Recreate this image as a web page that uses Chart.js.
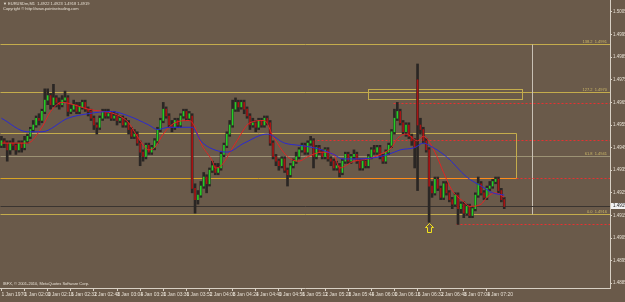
<!DOCTYPE html>
<html>
<head>
<meta charset="utf-8">
<script src="https://cdn.jsdelivr.net/npm/chart.js@4.4.1/dist/chart.umd.min.js"></script>
<style>
html, body { margin: 0; padding: 0; background: #6a5a4a; }
</style>
</head>
<body>
<canvas id="chart" width="625" height="302"></canvas>
<script>
// two-minute bars
const opens = [
  1.4946,1.4948,1.4947,1.4944,1.4947,1.4946,1.4944,1.4947,1.4945,1.4948,
  1.4950,1.4953,1.4955,1.4958,1.4957,1.4961,1.4966,1.4968,1.4964,1.4967,
  1.4965,1.4964,1.4966,1.4967,1.4961,1.4962,1.4964,1.4961,1.4963,1.4965,
  1.4962,1.4961,1.4958,1.4955,1.4954,1.4958,1.4961,1.4959,1.4960,1.4958,
  1.4959,1.4957,1.4958,1.4955,1.4956,1.4953,1.4950,1.4951,1.4947,1.4943,
  1.4941,1.4946,1.4943,1.4945,1.4948,1.4953,1.4957,1.4962,1.4959,1.4955,
  1.4954,1.4957,1.4955,1.4959,1.4961,1.4958,1.4959,1.4927,1.4922,1.4924,
  1.4928,1.4932,1.4929,1.4935,1.4937,1.4934,1.4936,1.4942,1.4946,1.4951,
  1.4955,1.4962,1.4965,1.4963,1.4965,1.4962,1.4959,1.4955,1.4956,1.4954,
  1.4957,1.4955,1.4958,1.4956,1.4947,1.4941,1.4939,1.4937,1.4940,1.4935,
  1.4933,1.4937,1.4939,1.4941,1.4944,1.4946,1.4943,1.4947,1.4948,1.4941,
  1.4945,1.4943,1.4941,1.4944,1.4940,1.4939,1.4936,1.4937,1.4934,1.4939,
  1.4942,1.4939,1.4941,1.4942,1.4939,1.4936,1.4939,1.4937,1.4941,1.4944,
  1.4943,1.4945,1.4941,1.4939,1.4943,1.4946,1.4952,1.4958,1.4961,1.4956,
  1.4952,1.4955,1.4950,1.4948,1.4975,1.4955,1.4953,1.4948,1.4944,1.4928,
  1.4925,1.4931,1.4927,1.4923,1.4929,1.4925,1.4922,1.4920,1.4924,1.4918,
  1.4920,1.4916,1.4919,1.4915,1.4918,1.4924,1.4929,1.4925,1.4923,1.4927,
  1.4928,1.4930,1.4931,1.4926,1.4922
];
const highs = [
  1.4950,1.4949,1.4948,1.4948,1.4949,1.4947,1.4948,1.4948,1.4950,1.4951,
  1.4954,1.4957,1.4959,1.4960,1.4962,1.4971,1.4971,1.4969,1.4973,1.4968,
  1.4967,1.4968,1.4970,1.4968,1.4964,1.4966,1.4965,1.4965,1.4966,1.4966,
  1.4963,1.4962,1.4959,1.4956,1.4959,1.4962,1.4962,1.4962,1.4961,1.4961,
  1.4960,1.4959,1.4959,1.4958,1.4957,1.4954,1.4953,1.4952,1.4948,1.4944,
  1.4947,1.4947,1.4946,1.4949,1.4954,1.4958,1.4965,1.4963,1.4960,1.4957,
  1.4958,1.4958,1.4960,1.4962,1.4962,1.4961,1.4960,1.4929,1.4926,1.4930,
  1.4934,1.4933,1.4936,1.4939,1.4938,1.4938,1.4943,1.4947,1.4952,1.4957,
  1.4966,1.4967,1.4966,1.4966,1.4966,1.4963,1.4960,1.4958,1.4957,1.4958,
  1.4958,1.4959,1.4959,1.4957,1.4948,1.4942,1.4940,1.4941,1.4941,1.4936,
  1.4938,1.4940,1.4943,1.4945,1.4947,1.4947,1.4948,1.4950,1.4949,1.4946,
  1.4946,1.4944,1.4945,1.4945,1.4941,1.4940,1.4939,1.4938,1.4940,1.4943,
  1.4943,1.4942,1.4944,1.4943,1.4940,1.4940,1.4940,1.4942,1.4945,1.4946,
  1.4946,1.4946,1.4942,1.4944,1.4947,1.4953,1.4962,1.4965,1.4962,1.4957,
  1.4956,1.4956,1.4951,1.4949,1.4982,1.4958,1.4954,1.4949,1.4945,1.4930,
  1.4932,1.4932,1.4928,1.4930,1.4930,1.4926,1.4923,1.4925,1.4925,1.4921,
  1.4921,1.4920,1.4920,1.4919,1.4925,1.4932,1.4930,1.4926,1.4928,1.4930,
  1.4931,1.4932,1.4932,1.4927,1.4923
];
const lows = [
  1.4945,1.4945,1.4939,1.4942,1.4944,1.4942,1.4943,1.4943,1.4944,1.4947,
  1.4949,1.4952,1.4954,1.4955,1.4956,1.4960,1.4964,1.4962,1.4963,1.4963,
  1.4962,1.4963,1.4965,1.4959,1.4960,1.4961,1.4960,1.4960,1.4962,1.4961,
  1.4959,1.4957,1.4953,1.4951,1.4953,1.4957,1.4958,1.4958,1.4957,1.4957,
  1.4955,1.4956,1.4954,1.4954,1.4951,1.4949,1.4949,1.4946,1.4937,1.4939,
  1.4940,1.4942,1.4942,1.4944,1.4947,1.4952,1.4956,1.4958,1.4954,1.4952,
  1.4953,1.4954,1.4954,1.4958,1.4957,1.4957,1.4925,1.4916,1.4920,1.4923,
  1.4927,1.4925,1.4928,1.4934,1.4933,1.4933,1.4935,1.4941,1.4945,1.4950,
  1.4954,1.4961,1.4961,1.4962,1.4960,1.4958,1.4953,1.4954,1.4952,1.4953,
  1.4954,1.4954,1.4955,1.4946,1.4940,1.4937,1.4935,1.4936,1.4934,1.4928,
  1.4932,1.4936,1.4938,1.4940,1.4943,1.4942,1.4942,1.4946,1.4936,1.4940,
  1.4942,1.4940,1.4940,1.4939,1.4937,1.4935,1.4935,1.4932,1.4933,1.4938,
  1.4938,1.4938,1.4940,1.4938,1.4935,1.4935,1.4936,1.4936,1.4940,1.4942,
  1.4942,1.4940,1.4938,1.4938,1.4942,1.4945,1.4951,1.4957,1.4955,1.4951,
  1.4950,1.4949,1.4946,1.4936,1.4926,1.4951,1.4947,1.4943,1.4912,1.4923,
  1.4924,1.4926,1.4922,1.4922,1.4924,1.4921,1.4918,1.4919,1.4911,1.4916,
  1.4914,1.4915,1.4914,1.4914,1.4917,1.4923,1.4924,1.4922,1.4922,1.4926,
  1.4927,1.4929,1.4925,1.4921,1.4918
];
const closes = [
  1.4948,1.4947,1.4944,1.4947,1.4946,1.4944,1.4947,1.4945,1.4948,1.4950,
  1.4953,1.4955,1.4958,1.4957,1.4961,1.4966,1.4968,1.4964,1.4967,1.4965,
  1.4964,1.4966,1.4967,1.4961,1.4962,1.4964,1.4961,1.4963,1.4965,1.4962,
  1.4961,1.4958,1.4955,1.4954,1.4958,1.4961,1.4959,1.4960,1.4958,1.4959,
  1.4957,1.4958,1.4955,1.4956,1.4953,1.4950,1.4951,1.4947,1.4943,1.4941,
  1.4946,1.4943,1.4945,1.4948,1.4953,1.4957,1.4962,1.4959,1.4955,1.4954,
  1.4957,1.4955,1.4959,1.4961,1.4958,1.4960,1.4927,1.4922,1.4924,1.4928,
  1.4932,1.4929,1.4935,1.4937,1.4934,1.4936,1.4942,1.4946,1.4951,1.4955,
  1.4962,1.4965,1.4963,1.4965,1.4962,1.4959,1.4955,1.4956,1.4954,1.4957,
  1.4955,1.4958,1.4956,1.4947,1.4941,1.4939,1.4937,1.4940,1.4935,1.4933,
  1.4937,1.4939,1.4941,1.4944,1.4946,1.4943,1.4947,1.4948,1.4941,1.4945,
  1.4943,1.4941,1.4944,1.4940,1.4939,1.4936,1.4937,1.4934,1.4939,1.4942,
  1.4939,1.4941,1.4942,1.4939,1.4936,1.4939,1.4937,1.4941,1.4944,1.4943,
  1.4945,1.4941,1.4939,1.4943,1.4946,1.4952,1.4958,1.4961,1.4956,1.4952,
  1.4955,1.4950,1.4948,1.4945,1.4955,1.4953,1.4948,1.4944,1.4928,1.4925,
  1.4931,1.4927,1.4923,1.4929,1.4925,1.4922,1.4920,1.4924,1.4918,1.4920,
  1.4916,1.4919,1.4915,1.4918,1.4924,1.4929,1.4925,1.4923,1.4927,1.4928,
  1.4930,1.4931,1.4926,1.4922,1.4919
];

// moving averages, sampled at these bars
const slowMaBars = [0,9,14,23,30,38,44,51,54,58,62,66,69,72,78,84,92,98,103,108,115,118,124,131,136,138,143,146,148,154,161,166,170,174];
const slowMa = [1.4958,1.4952,1.4952,1.4958,1.4960,1.4961,1.4959,1.4955,1.4953,1.4954,1.4954,1.4954,1.4948,1.4945,1.4943,1.4947,1.4951,1.4947,1.4946,1.4945,1.4942,1.4940,1.4940,1.4941,1.4943,1.4944,1.4945,1.4947,1.4946,1.4941,1.4932,1.4928,1.4925,1.4924];
const fastMaBars = [0,9,14,17,21,25,30,35,39,44,47,51,53,56,60,65,67,69,73,74,76,81,86,91,94,99,103,106,111,115,117,122,127,131,135,137,140,144,146,150,153,156,160,162,166,168,171,174];
const fastMa = [1.4947,1.4947,1.4954,1.4961,1.4965,1.4964,1.4962,1.4961,1.4960,1.4956,1.4950,1.4944,1.4945,1.4951,1.4956,1.4957,1.4954,1.4947,1.4939,1.4936,1.4937,1.4947,1.4956,1.4957,1.4950,1.4941,1.4939,1.4941,1.4943,1.4942,1.4936,1.4939,1.4940,1.4942,1.4945,1.4949,1.4951,1.4948,1.4950,1.4943,1.4934,1.4926,1.4921,1.4919,1.4920,1.4923,1.4925,1.4923];

const priceTicks = [1.5005,1.4995,1.4985,1.4975,1.4965,1.4955,1.4945,1.4935,1.4925,1.4915,1.4905,1.4895,1.4885];
const timeLabels = ['1 Jan 1970','1 Jan 02:00','1 Jan 02:16','1 Jan 02:32','1 Jan 02:48','1 Jan 03:04','1 Jan 03:20','1 Jan 03:36','1 Jan 03:52','1 Jan 04:08','1 Jan 04:24','1 Jan 04:40','1 Jan 04:56','1 Jan 05:12','1 Jan 05:28','1 Jan 05:44','1 Jan 06:00','1 Jan 06:16','1 Jan 06:32','1 Jan 06:48','1 Jan 07:04','1 Jan 07:20'];

// fibo levels and drawn objects
const fibPrices = [1.49908, 1.49696, 1.49413, 1.49156];
const fibLabels = ['138.2  1.4991', '127.2  1.4970', '61.8  1.4941', '0.0  1.4916'];
const redLevels = [1.49647, 1.49484, 1.49315, 1.49112];
const redFrom = [135.5, 107.8, 178, 157.3];
const boxTop = 1.49514, boxBottom = 1.49315, boxEnd = 178;
const smallBox = [126.8, 180.1, 1.49709, 1.49665];
const rangeEdge = 183.6;
const arrowBar = 148;

const bg = '#6a5a4a';
const axisColor = '#d8d0c4';
const textColor = '#e6ded2';
const font = "'Liberation Sans', Arial, sans-serif";

const bars = closes.map((c, i) => i);
const lastClose = closes[closes.length - 1];

const overlay = {
	id: 'overlay',
	beforeDraw(chart) {
		const ctx = chart.ctx;
		ctx.save();
		ctx.fillStyle = bg;
		ctx.fillRect(0, 0, chart.width, chart.height);
		ctx.restore();
	},
	beforeDatasetsDraw(chart) {
		const { ctx, chartArea: a, scales: { x, y } } = chart;
		const py = (v) => Math.round(y.getPixelForValue(v)) + 0.5;
		const px = (v) => Math.round(x.getPixelForValue(v)) + 0.5;
		const hline = (v, from, to, color, dash) => {
			ctx.strokeStyle = color;
			ctx.setLineDash(dash || []);
			ctx.beginPath();
			ctx.moveTo(px(from), py(v));
			ctx.lineTo(px(to), py(v));
			ctx.stroke();
		};
		ctx.save();
		ctx.beginPath();
		ctx.rect(a.left, a.top, a.width, a.height);
		ctx.clip();
		ctx.lineWidth = 1;

		fibPrices.forEach((v, k) => {
			hline(v, x.min, x.max, k === 2 ? '#9c9274' : '#c4ac4c');
		});
		ctx.fillStyle = '#cdb866';
		ctx.font = '4px ' + font;
		ctx.textAlign = 'right';
		ctx.textBaseline = 'bottom';
		fibPrices.forEach((v, k) => {
			ctx.fillText(fibLabels[k], a.right - 3, py(v) - 1);
		});

		// zone box
		hline(boxTop, x.min, boxEnd, '#c4ac4c');
		hline(boxBottom, x.min, boxEnd, '#d8a424');
		hline(boxBottom, 116.5, boxEnd, '#ff8c1a');
		ctx.strokeStyle = '#c4ac4c';
		ctx.beginPath();
		ctx.moveTo(px(boxEnd), py(boxTop));
		ctx.lineTo(px(boxEnd), py(boxBottom));
		ctx.stroke();

		// small box
		ctx.strokeRect(px(smallBox[0]), py(smallBox[2]), px(smallBox[1]) - px(smallBox[0]), py(smallBox[3]) - py(smallBox[2]));

		// range edge
		ctx.strokeStyle = '#c8c0b4';
		ctx.beginPath();
		ctx.moveTo(px(rangeEdge), py(fibPrices[0]));
		ctx.lineTo(px(rangeEdge), py(fibPrices[3]));
		ctx.stroke();

		redLevels.forEach((v, k) => hline(v, redFrom[k], x.max, '#e83030', [2, 2]));

		// bid line
		hline(lastClose, x.min, x.max, '#3a3430');
		ctx.restore();
	},
	afterDraw(chart) {
		const { ctx, chartArea: a, scales: { x, y } } = chart;
		ctx.save();
		// arrow under the low bar
		const ax = Math.round(x.getPixelForValue(arrowBar)) + 0.5;
		const ay = Math.round(y.getPixelForValue(lows[arrowBar])) + 1.5;
		ctx.strokeStyle = '#f2e21c';
		ctx.lineWidth = 1;
		ctx.beginPath();
		ctx.moveTo(ax, ay);
		ctx.lineTo(ax + 4, ay + 4);
		ctx.lineTo(ax + 2, ay + 4);
		ctx.lineTo(ax + 2, ay + 9);
		ctx.lineTo(ax - 2, ay + 9);
		ctx.lineTo(ax - 2, ay + 4);
		ctx.lineTo(ax - 4, ay + 4);
		ctx.closePath();
		ctx.stroke();

		// price box on the axis
		const cy = Math.round(y.getPixelForValue(lastClose));
		ctx.fillStyle = '#f2f2f2';
		ctx.fillRect(a.right + 1, cy - 3, chart.width - a.right - 1, 6);
		ctx.fillStyle = '#202020';
		ctx.font = '4.5px ' + font;
		ctx.textAlign = 'left';
		ctx.textBaseline = 'middle';
		ctx.fillText(lastClose.toFixed(4), a.right + 3, cy);

		// texts
		ctx.fillStyle = textColor;
		ctx.font = '4px ' + font;
		ctx.fillText('\u25BC EURUSDm,M1  1.4922 1.4923 1.4918 1.4919', 3, 4);
		ctx.fillText('Copyright \u00A9 http://www.pointsetrading.com', 3, 8.5);
		ctx.fillText('IBFX, \u00A9 2001-2010, MetaQuotes Software Corp.', 3, a.bottom - 4);
		ctx.restore();
	}
};

new Chart(document.getElementById('chart'), {
	type: 'bar',
	data: {
		datasets: [
			{
				type: 'line',
				data: slowMaBars.map((b, k) => ({ x: b, y: slowMa[k] })),
				borderColor: '#2a2ad0',
				borderWidth: 1,
				pointRadius: 0,
				cubicInterpolationMode: 'monotone',
				order: 0,
			},
			{
				type: 'line',
				data: fastMaBars.map((b, k) => ({ x: b, y: fastMa[k] })),
				borderColor: '#e02424',
				borderWidth: 1,
				pointRadius: 0,
				cubicInterpolationMode: 'monotone',
				order: 1,
			},
			{
				data: bars.map((i) => ({ x: i, y: [opens[i], closes[i]] })),
				backgroundColor: bars.map((i) => (closes[i] >= opens[i] ? '#26cc26' : '#a81414')),
				barThickness: 1,
				grouped: false,
				order: 2,
			},
			{
				data: bars.map((i) => ({ x: i, y: [lows[i], highs[i]] })),
				backgroundColor: '#2a2624',
				barThickness: 2,
				grouped: false,
				order: 3,
			},
		],
	},
	options: {
		responsive: false,
		animation: false,
		devicePixelRatio: 1,
		layout: { padding: 0 },
		plugins: {
			legend: { display: false },
			tooltip: { enabled: false },
		},
		scales: {
			x: {
				type: 'linear',
				position: 'bottom',
				offset: false,
				min: -0.5,
				max: 210.6,
				afterBuildTicks: (scale) => {
					scale.ticks = timeLabels.map((t, k) => ({ value: k * 8 }));
				},
				afterFit: (scale) => {
					scale.height = 14;
					scale.paddingLeft = 0;
					scale.paddingRight = 0;
				},
				ticks: {
					autoSkip: false,
					maxRotation: 0,
					minRotation: 0,
					align: 'start',
					padding: 1,
					color: textColor,
					font: { size: 5, family: font },
					callback: (v, k) => timeLabels[k],
				},
				grid: { drawOnChartArea: false, tickLength: 3, color: axisColor, offset: false },
				border: { color: axisColor },
			},
			y: {
				position: 'right',
				min: 1.48829,
				max: 1.50103,
				afterBuildTicks: (scale) => {
					scale.ticks = priceTicks.map((v) => ({ value: v }));
				},
				afterFit: (scale) => {
					scale.width = 15;
					scale.paddingTop = 0;
					scale.paddingBottom = 0;
				},
				ticks: {
					padding: 1,
					color: textColor,
					font: { size: 4.5, family: font },
					callback: (v) => v.toFixed(4),
				},
				grid: { drawOnChartArea: false, tickLength: 2, color: axisColor },
				border: { color: axisColor },
			},
		},
	},
	plugins: [overlay],
});
</script>
</body>
</html>
